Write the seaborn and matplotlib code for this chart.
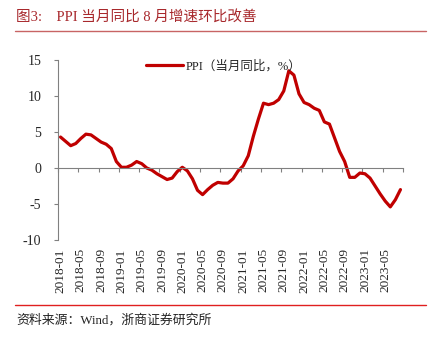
import matplotlib
matplotlib.use("Agg")
import matplotlib.pyplot as plt
import seaborn as sns
import pandas as pd
import numpy as np

months = pd.period_range("2018-01", "2023-08", freq="M").strftime("%Y-%m").tolist()
ppi = [4.3, 3.7, 3.1, 3.4, 4.1, 4.7, 4.6, 4.1, 3.6, 3.3, 2.7, 0.9,
       0.1, 0.1, 0.4, 0.9, 0.6, 0.0, -0.3, -0.8, -1.2, -1.6, -1.4, -0.5,
       0.1, -0.4, -1.5, -3.1, -3.7, -3.0, -2.4, -2.0, -2.1, -2.1, -1.5, -0.4,
       0.3, 1.7, 4.4, 6.8, 9.0, 8.8, 9.0, 9.5, 10.7, 13.5, 12.9, 10.3,
       9.1, 8.8, 8.3, 8.0, 6.4, 6.1, 4.2, 2.3, 0.9, -1.3, -1.3, -0.7,
       -0.8, -1.4, -2.5, -3.6, -4.6, -5.4, -4.4, -3.0]
yticks = [-10, -5, 0, 5, 10, 15]
series_name = "PPI（当月同比，%）"
title = "图3:    PPI 当月同比 8 月增速环比改善"
source = "资料来源：Wind，浙商证券研究所"

sns.set_style("white")
plt.rcParams["font.family"] = ["Liberation Serif", "Noto Sans CJK SC"]

df = pd.DataFrame({"idx": np.arange(len(months)), "val": ppi})

fig = plt.figure(figsize=(4.38, 3.38), dpi=100)
ax = fig.add_axes([58/438, (338-240)/338, (403-58)/438, 180/338])

sns.lineplot(data=df, x="idx", y="val", ax=ax, color="#C00000", linewidth=2.3,
             label=series_name)

ax.set_xlim(-0.5, len(months) - 0.5)
ax.set_ylim(-10, 15)
ax.set_yticks(yticks)
ax.set_yticklabels([str(v) for v in yticks], fontsize=10)
ax.tick_params(axis="y", direction="out", length=3, width=0.8, color="#808080",
               left=True, pad=9)

# category axis crossing at zero
ax.spines["bottom"].set_position(("data", 0))
ax.spines["bottom"].set_color("#808080")
ax.spines["left"].set_color("#808080")
ax.spines["top"].set_visible(False)
ax.spines["right"].set_visible(False)
tick_pos = np.arange(0, len(months), 4)
ax.set_xticks(tick_pos)
ax.set_xticklabels([])
ax.tick_params(axis="x", which="major", length=0)
ax.set_xticks(np.arange(-0.5, len(months), 4), minor=True)
ax.tick_params(axis="x", which="minor", direction="out", length=3, width=0.8,
               color="#808080", bottom=True)
ax.set_xlabel("")
ax.set_ylabel("")

sec = ax.secondary_xaxis("bottom")
sec.set_xticks(tick_pos)
sec.set_xticklabels([months[i] for i in tick_pos], rotation=90, fontsize=9.5)
sec.tick_params(length=0, pad=6)
sec.spines["bottom"].set_visible(False)

leg = ax.legend(loc="upper center", bbox_to_anchor=(0.48, 1.06), frameon=False,
                fontsize=9, handlelength=3.0, handletextpad=0.2)

fig.text(16/438, 1 - 17/338, title, fontsize=10.5, color="#A8282C",
         va="center", ha="left")
fig.add_artist(plt.Line2D([15/438, 426/438], [1 - 31/338, 1 - 31/338],
                          color="#C86464", linewidth=1.0))
fig.add_artist(plt.Line2D([15/438, 426/438], [1 - 305/338, 1 - 305/338],
                          color="#E02020", linewidth=1.0))
fig.text(16/438, 1 - 320/338, source, fontsize=9.3, color="#222222",
         va="center", ha="left")

fig.savefig("out.png", dpi=100)
